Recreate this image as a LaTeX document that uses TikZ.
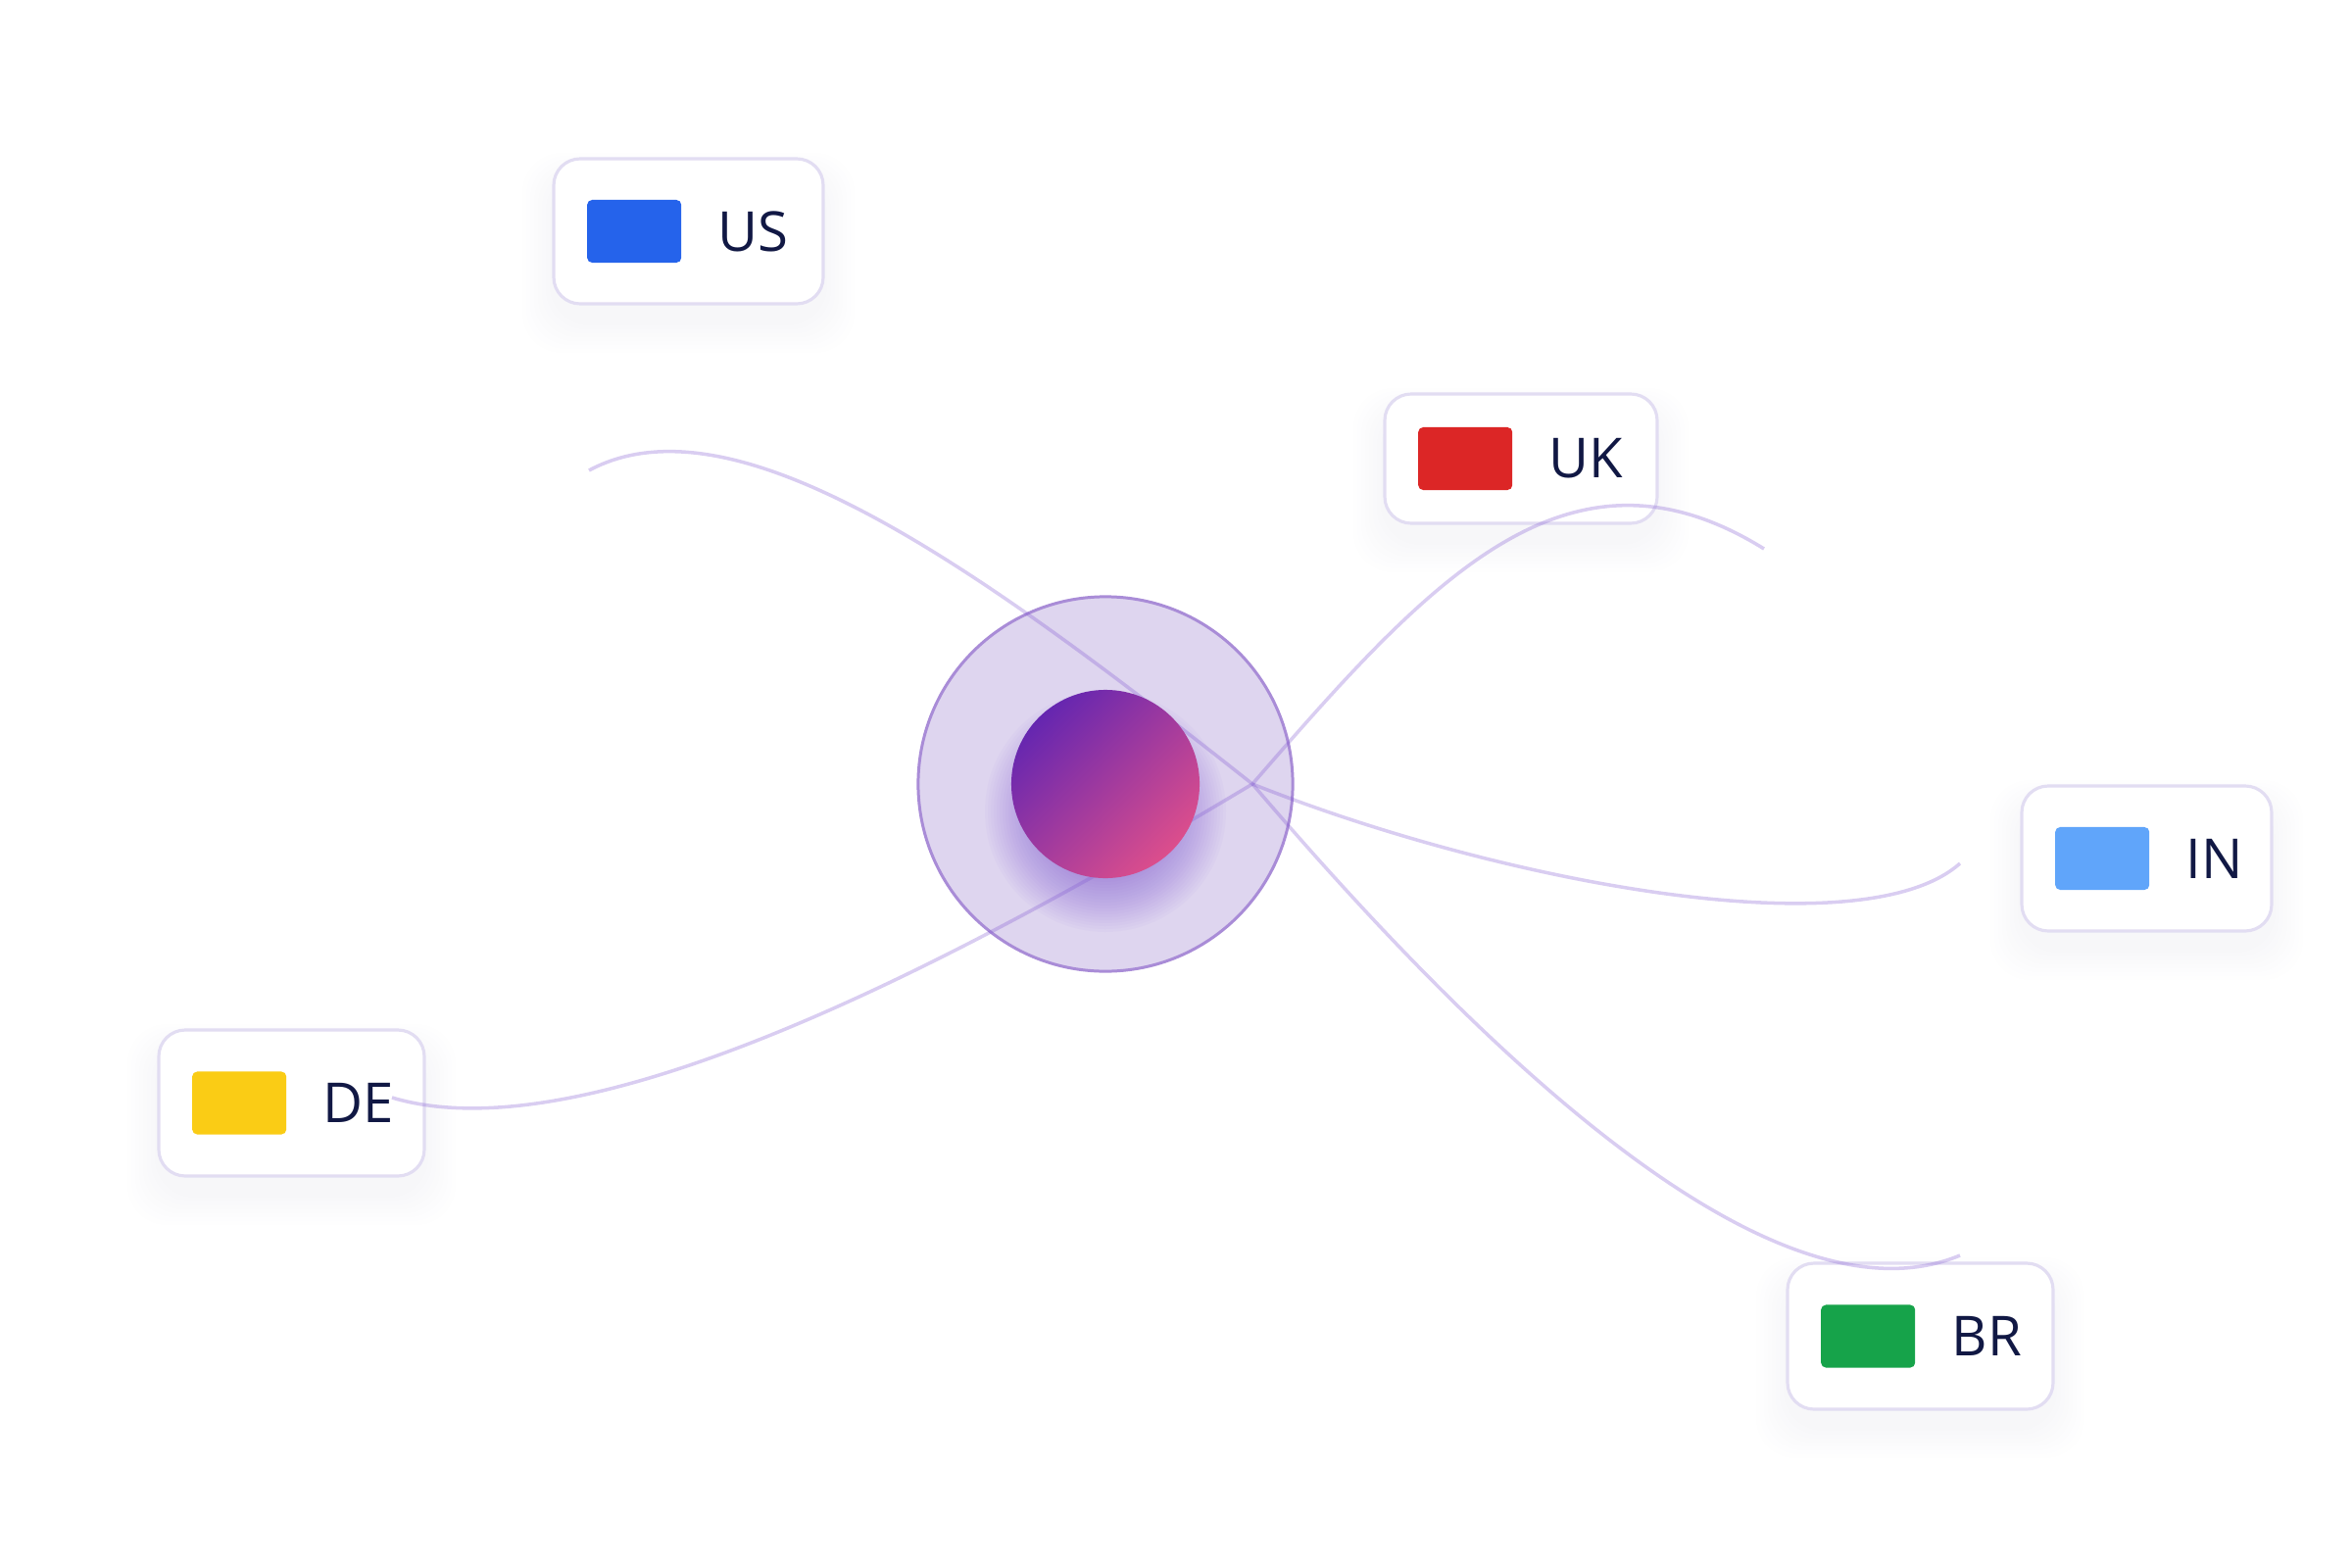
\documentclass[tikz,border=0pt]{standalone}
\usepackage{fontspec}
\setmainfont{Open Sans}
\usepackage{tikz}
\definecolor{ringfill}{RGB}{222,213,239}
\definecolor{ringline}{RGB}{169,140,215}
\definecolor{linkpurple}{RGB}{130,90,210}
\definecolor{glowpurple}{RGB}{124,82,214}
\definecolor{coretop}{RGB}{101,38,176}
\definecolor{corebot}{RGB}{220,78,140}
\definecolor{boxline}{RGB}{226,221,242}
\definecolor{labelnavy}{RGB}{17,24,68}
\definecolor{flagus}{RGB}{37,99,235}
\definecolor{flaguk}{RGB}{220,38,38}
\definecolor{flagde}{RGB}{250,204,21}
\definecolor{flagin}{RGB}{96,165,250}
\definecolor{flagbr}{RGB}{22,163,74}

\begin{document}
\begin{tikzpicture}[x=0.01cm, y=0.01cm,
    box/.style={draw=boxline, line width=0.9pt, fill=white, rounded corners=0.27cm, inner sep=0},
    flag/.style={rounded corners=0.05cm, minimum width=0.96cm, minimum height=0.64cm, inner sep=0},
    lbl/.style={text=labelnavy, font=\fontsize{16}{19}\selectfont, inner sep=0},
    link/.style={linkpurple, opacity=0.3, line width=1pt}]
        \useasboundingbox (0,0) rectangle (2400,-1600);
        % soft shadows
        \foreach \cx/\cy/\w/\h in {702.5/236/275/148, 1552/468/278/132, 297.5/1125.5/271/149, 2190.5/876/255/148, 1959.5/1363.5/271/149}{
            \foreach \s in {1,...,8}{
                \fill[black!70!blue, opacity=0.002, rounded corners=0.4cm](\cx-\w/2-4*\s, -\cy+\h/2+3*\s-18) rectangle (\cx+\w/2+4*\s, -\cy-\h/2-4*\s-18);
            }
        }
        % country boxes
        \foreach \nm/\lab/\col/\cx/\cy/\w/\h in {us/US/flagus/702.5/236/275/148, uk/UK/flaguk/1552/468/278/132, de/DE/flagde/297.5/1125.5/271/149, in/IN/flagin/2190.5/876/255/148, br/BR/flagbr/1959.5/1363.5/271/149}{
            \node[box, minimum width=\w*0.01cm, minimum height=\h*0.01cm] (\nm box) at (\cx,-\cy) {};
            \node[flag, fill=\col, anchor=west] (\nm flag) at ([xshift=0.35cm]\nm box.west) {};
            \node[lbl, anchor=west] (\nm lbl) at ([xshift=0.36cm]\nm flag.east) {\lab};
        }
        % ring and glow
        \node[circle, draw=ringline, fill=ringfill, line width=0.85pt, minimum size=3.82cm, inner sep=0] (ring) at (1128,-800) {};
        \foreach \r in {60,63,...,123}{
            \fill[glowpurple, opacity=0.03] (1128,-828) circle (\r);
        }
        % links
        \coordinate (hub) at (1278,-800);
        \coordinate (usend) at (601,-480);
        \coordinate (ukend) at (1800,-560);
        \coordinate (inend) at (2000,-881);
        \coordinate (brend) at (2000,-1281);
        \coordinate (deend) at (400,-1120);
        \draw[link] (hub) .. controls (1000,-580) and (750,-400) .. (usend);
        \draw[link] (hub) .. controls (1460,-590) and (1600,-436) .. (ukend);
        \draw[link] (hub) .. controls (1529,-900) and (1900,-970) .. (inend);
        \draw[link] (hub) .. controls (1500,-1060) and (1805,-1362) .. (brend);
        \draw[link] (hub) .. controls (978,-980) and (600,-1180) .. (deend);
        % core
        \node[circle, minimum size=1.92cm, inner sep=0, top color=coretop, bottom color=corebot, shading angle=45] (core) at (1128,-800) {};
\end{tikzpicture}
\end{document}
